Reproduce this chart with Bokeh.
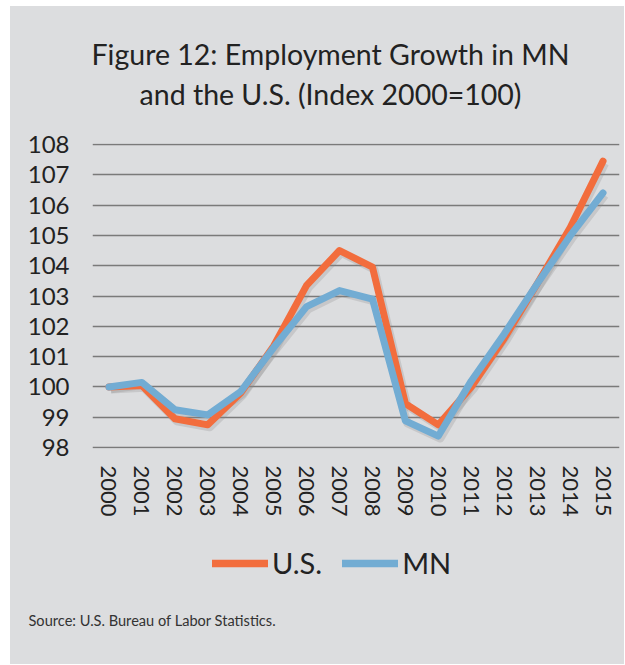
from bokeh.plotting import figure
from bokeh.layouts import column
from bokeh.models import FactorRange, Range1d, Legend, LegendItem, FixedTicker, Label, Title
from bokeh.transform import dodge
from bokeh.embed import file_html
from bokeh.resources import INLINE

years = [str(y) for y in range(2000, 2016)]
us_values = [100.0, 100.05, 98.95, 98.75, 99.8, 101.35, 103.35, 104.5, 103.95, 99.45,
             98.75, 100.0, 101.6, 103.4, 105.25, 107.45]
mn_values = [100.0, 100.15, 99.25, 99.08, 99.85, 101.3, 102.65, 103.18, 102.9, 98.88,
             98.38, 100.2, 101.75, 103.4, 104.98, 106.4]
y_ticks = [98, 99, 100, 101, 102, 103, 104, 105, 106, 107, 108]
series_names = ["U.S.", "MN"]

title_line1 = "Figure 12: Employment Growth in MN"
title_line2 = "and the U.S. (Index 2000=100)"
source_text = "Source: U.S. Bureau of Labor Statistics."

FONT = "Lato"
BG = "#dcdddf"
US_COLOR = "#f26d3d"
MN_COLOR = "#72acd3"
GRID = "#7a7a7a"
TXT = "#222222"
W = 614
BL, BR = 82, 5
STY = {"background-color": BG}


def panel(height):
    f = figure(width=W, height=height, output_backend="svg", toolbar_location=None,
               title=None, background_fill_color=BG, border_fill_color=BG,
               outline_line_color=None, min_border_left=BL, min_border_right=BR,
               min_border_top=0, min_border_bottom=0,
               x_range=Range1d(0, W - BL - BR), y_range=Range1d(0, height),
               x_axis_type=None, y_axis_type=None, styles=STY)
    f.grid.visible = False
    return f


# ---- heading panel
a = panel(114)
for txt, yy in ((title_line1, 67), (title_line2, 27)):
    a.add_layout(Label(x=238, y=yy, x_units="screen", y_units="screen", text=txt,
                       text_font=FONT, text_font_size="28.5px", text_color=TXT,
                       text_align="center", text_baseline="middle"))

# ---- main chart
p = figure(width=W, height=410, x_range=FactorRange(*years),
           y_range=Range1d(97.97, 108.03), output_backend="svg",
           toolbar_location=None, title=None,
           background_fill_color=BG, border_fill_color=BG,
           min_border_left=BL, min_border_right=BR, min_border_top=23,
           min_border_bottom=82, outline_line_color=None, styles=STY)

src = {"x": years, "us": us_values, "mn": mn_values}
p.line(x=dodge("x", 0.06, range=p.x_range), y=dodge("us", -0.08), source=src,
       line_color="#888888", line_alpha=0.25, line_width=8, line_join="round")
p.line(x=dodge("x", 0.06, range=p.x_range), y=dodge("mn", -0.08), source=src,
       line_color="#888888", line_alpha=0.25, line_width=8, line_join="round")
p.line(x="x", y="us", source=src, line_color=US_COLOR, line_width=7,
       line_join="round", line_cap="round")
p.line(x="x", y="mn", source=src, line_color=MN_COLOR, line_width=7,
       line_join="round", line_cap="round")

p.xgrid.grid_line_color = None
p.ygrid.grid_line_color = GRID
p.ygrid.grid_line_width = 1.6
p.yaxis.ticker = FixedTicker(ticks=y_ticks)

for ax in (p.xaxis[0], p.yaxis[0]):
    ax.axis_line_color = None
    ax.major_tick_line_color = None
    ax.minor_tick_line_color = None
    ax.major_label_text_font = FONT
    ax.major_label_text_color = TXT

p.yaxis.major_label_text_font_size = "24px"
p.yaxis.major_label_standoff = 17
p.xaxis.major_label_text_font_size = "22px"
p.xaxis.major_label_orientation = "vertical"
p.xaxis.major_label_standoff = 11

# ---- legend panel (swatches come from the real series, outside this panel's view)
b = panel(79)
lx = list(range(2000, 2016))
r_us = b.line(lx, us_values, line_color=US_COLOR, line_width=7.5, line_cap="round")
r_mn = b.line(lx, mn_values, line_color=MN_COLOR, line_width=7.5, line_cap="round")
legend = Legend(items=[LegendItem(label=series_names[0], renderers=[r_us]),
                       LegendItem(label=series_names[1], renderers=[r_mn])],
                orientation="horizontal", location=(118, 27),
                label_text_font=FONT, label_text_font_size="29px", label_text_color=TXT,
                background_fill_alpha=0, border_line_alpha=0,
                glyph_width=56, glyph_height=24, label_standoff=4, spacing=20,
                margin=0, padding=2)
b.add_layout(legend, "center")

# ---- source panel
c = panel(55)
c.add_layout(Title(text=source_text, align="left", offset=-64, standoff=0,
                   text_font=FONT, text_font_size="14.6px", text_font_style="normal",
                   text_color="#333333"), "above")

layout = column(a, p, b, c, spacing=0, margin=(6, 0, 0, 10), styles=STY)
open("out.html", "w").write(file_html(layout, INLINE))
